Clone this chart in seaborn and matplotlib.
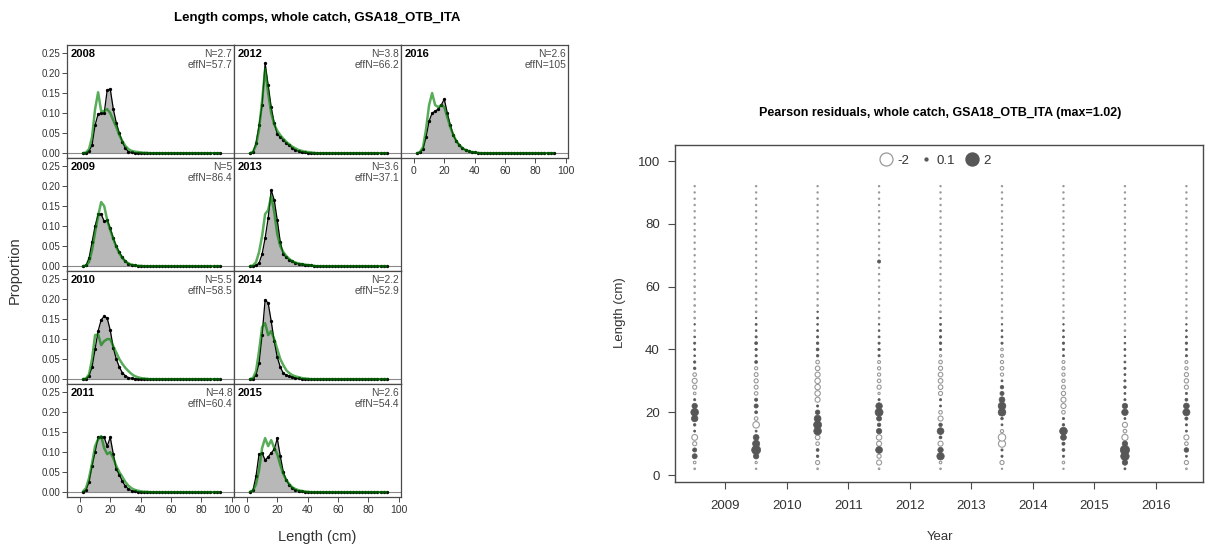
import matplotlib
matplotlib.use("Agg")
import matplotlib.pyplot as plt
import numpy as np
import pandas as pd
import seaborn as sns
from matplotlib.lines import Line2D

# ---------------- data ----------------
length_bins = [2, 4, 6, 8, 10, 12, 14, 16, 18, 20, 22, 24, 26, 28, 30, 32, 34, 36, 38, 40,
               42, 44, 46, 48, 50, 52, 54, 56, 58, 60, 62, 64, 66, 68, 70, 72, 74, 76, 78, 80,
               82, 84, 86, 88, 90, 92]
comp_years = [2008, 2009, 2010, 2011, 2012, 2013, 2014, 2015, 2016]
n_labels = ["N=2.7", "N=5", "N=5.5", "N=4.8", "N=3.8", "N=3.6", "N=2.2", "N=2.6", "N=2.6"]
effn_labels = ["effN=57.7", "effN=86.4", "effN=58.5", "effN=60.4", "effN=66.2",
               "effN=37.1", "effN=52.9", "effN=54.4", "effN=105"]

obs_2008 = [0.000, 0.001, 0.005, 0.020, 0.070, 0.098, 0.100, 0.100, 0.158, 0.160,
            0.110, 0.075, 0.050, 0.028, 0.012, 0.004, 0.002, 0.001, 0.000, 0.000,
            0, 0, 0, 0, 0, 0, 0, 0, 0, 0, 0, 0, 0, 0, 0, 0, 0, 0, 0, 0, 0, 0, 0, 0, 0, 0]
exp_2008 = [0.000, 0.002, 0.010, 0.040, 0.110, 0.152, 0.105, 0.105, 0.110, 0.100,
            0.082, 0.065, 0.045, 0.030, 0.018, 0.010, 0.006, 0.004, 0.003, 0.002,
            0.001, 0.001, 0, 0, 0, 0, 0, 0, 0, 0, 0, 0, 0, 0, 0, 0, 0, 0, 0, 0, 0, 0, 0, 0, 0, 0]
obs_2009 = [0.000, 0.002, 0.020, 0.060, 0.100, 0.130, 0.130, 0.112, 0.115, 0.095,
            0.070, 0.050, 0.035, 0.022, 0.012, 0.006, 0.003, 0.002, 0.001, 0.000,
            0, 0, 0, 0, 0, 0, 0, 0, 0, 0, 0, 0, 0, 0, 0, 0, 0, 0, 0, 0, 0, 0, 0, 0, 0, 0]
exp_2009 = [0.000, 0.002, 0.010, 0.040, 0.085, 0.125, 0.160, 0.150, 0.115, 0.090,
            0.068, 0.048, 0.032, 0.020, 0.012, 0.007, 0.004, 0.002, 0.001, 0.001,
            0, 0, 0, 0, 0, 0, 0, 0, 0, 0, 0, 0, 0, 0, 0, 0, 0, 0, 0, 0, 0, 0, 0, 0, 0, 0]
obs_2010 = [0.000, 0.001, 0.008, 0.030, 0.075, 0.120, 0.148, 0.157, 0.152, 0.122,
            0.078, 0.050, 0.030, 0.016, 0.008, 0.004, 0.002, 0.001, 0.000, 0.000,
            0, 0, 0, 0, 0, 0, 0, 0, 0, 0, 0, 0, 0, 0, 0, 0, 0, 0, 0, 0, 0, 0, 0, 0, 0, 0]
exp_2010 = [0.000, 0.002, 0.012, 0.050, 0.110, 0.112, 0.085, 0.095, 0.100, 0.100,
            0.082, 0.066, 0.050, 0.038, 0.028, 0.020, 0.013, 0.008, 0.005, 0.003,
            0.002, 0.001, 0, 0, 0, 0, 0, 0, 0, 0, 0, 0, 0, 0, 0, 0, 0, 0, 0, 0, 0, 0, 0, 0, 0, 0]
obs_2011 = [0.001, 0.005, 0.025, 0.065, 0.100, 0.137, 0.137, 0.137, 0.115, 0.137,
            0.095, 0.057, 0.044, 0.027, 0.015, 0.008, 0.004, 0.002, 0.001, 0.000,
            0, 0, 0, 0, 0, 0, 0, 0, 0, 0, 0, 0, 0, 0, 0, 0, 0, 0, 0, 0, 0, 0, 0, 0, 0, 0]
exp_2011 = [0.002, 0.010, 0.035, 0.072, 0.115, 0.132, 0.140, 0.110, 0.095, 0.100,
            0.085, 0.065, 0.050, 0.038, 0.025, 0.016, 0.010, 0.006, 0.004, 0.002,
            0.001, 0.001, 0, 0, 0, 0, 0, 0, 0, 0, 0, 0, 0, 0, 0, 0, 0, 0, 0, 0, 0, 0, 0, 0, 0, 0]
obs_2012 = [0.000, 0.003, 0.025, 0.070, 0.120, 0.225, 0.170, 0.115, 0.075, 0.048,
            0.040, 0.033, 0.025, 0.020, 0.013, 0.008, 0.005, 0.003, 0.002, 0.001,
            0, 0, 0, 0, 0, 0, 0, 0, 0, 0, 0, 0, 0, 0, 0, 0, 0, 0, 0, 0, 0, 0, 0, 0, 0, 0]
exp_2012 = [0.000, 0.003, 0.020, 0.060, 0.130, 0.210, 0.150, 0.100, 0.072, 0.056,
            0.045, 0.036, 0.028, 0.022, 0.016, 0.012, 0.008, 0.006, 0.004, 0.003,
            0.002, 0.001, 0, 0, 0, 0, 0, 0, 0, 0, 0, 0, 0, 0, 0, 0, 0, 0, 0, 0, 0, 0, 0, 0, 0, 0]
obs_2013 = [0.000, 0.000, 0.002, 0.008, 0.030, 0.070, 0.120, 0.190, 0.165, 0.115,
            0.060, 0.030, 0.022, 0.016, 0.012, 0.008, 0.006, 0.005, 0.004, 0.003,
            0.002, 0.001, 0, 0, 0, 0, 0, 0, 0, 0, 0, 0, 0, 0, 0, 0, 0, 0, 0, 0, 0, 0, 0, 0, 0, 0]
exp_2013 = [0.000, 0.002, 0.010, 0.035, 0.075, 0.130, 0.140, 0.175, 0.135, 0.080,
            0.050, 0.035, 0.025, 0.018, 0.012, 0.009, 0.007, 0.005, 0.004, 0.003,
            0.002, 0.001, 0, 0, 0, 0, 0, 0, 0, 0, 0, 0, 0, 0, 0, 0, 0, 0, 0, 0, 0, 0, 0, 0, 0, 0]
obs_2014 = [0.000, 0.001, 0.010, 0.040, 0.110, 0.198, 0.190, 0.145, 0.095, 0.055,
            0.030, 0.015, 0.010, 0.007, 0.005, 0.003, 0.002, 0.001, 0.000, 0.000,
            0, 0, 0, 0, 0, 0, 0, 0, 0, 0, 0, 0, 0, 0, 0, 0, 0, 0, 0, 0, 0, 0, 0, 0, 0, 0]
exp_2014 = [0.000, 0.003, 0.020, 0.070, 0.130, 0.140, 0.110, 0.120, 0.100, 0.075,
            0.050, 0.035, 0.022, 0.015, 0.010, 0.007, 0.005, 0.003, 0.002, 0.001,
            0, 0, 0, 0, 0, 0, 0, 0, 0, 0, 0, 0, 0, 0, 0, 0, 0, 0, 0, 0, 0, 0, 0, 0, 0, 0]
obs_2015 = [0.001, 0.005, 0.040, 0.095, 0.098, 0.080, 0.088, 0.098, 0.107, 0.134,
            0.090, 0.050, 0.030, 0.018, 0.010, 0.006, 0.003, 0.002, 0.001, 0.000,
            0, 0, 0, 0, 0, 0, 0, 0, 0, 0, 0, 0, 0, 0, 0, 0, 0, 0, 0, 0, 0, 0, 0, 0, 0, 0]
exp_2015 = [0.001, 0.004, 0.020, 0.055, 0.110, 0.135, 0.115, 0.130, 0.110, 0.095,
            0.068, 0.045, 0.030, 0.020, 0.012, 0.008, 0.005, 0.003, 0.002, 0.001,
            0, 0, 0, 0, 0, 0, 0, 0, 0, 0, 0, 0, 0, 0, 0, 0, 0, 0, 0, 0, 0, 0, 0, 0, 0, 0]
obs_2016 = [0.000, 0.002, 0.010, 0.040, 0.080, 0.100, 0.105, 0.110, 0.120, 0.135,
            0.100, 0.070, 0.045, 0.030, 0.020, 0.012, 0.008, 0.005, 0.003, 0.002,
            0.001, 0, 0, 0, 0, 0, 0, 0, 0, 0, 0, 0, 0, 0, 0, 0, 0, 0, 0, 0, 0, 0, 0, 0, 0, 0]
exp_2016 = [0.000, 0.003, 0.015, 0.060, 0.120, 0.150, 0.120, 0.115, 0.120, 0.115,
            0.090, 0.065, 0.045, 0.030, 0.020, 0.013, 0.008, 0.005, 0.003, 0.002,
            0.001, 0, 0, 0, 0, 0, 0, 0, 0, 0, 0, 0, 0, 0, 0, 0, 0, 0, 0, 0, 0, 0, 0, 0, 0, 0]

# Pearson residuals (mid-year positions)
resid_years = [2008.5, 2009.5, 2010.5, 2011.5, 2012.5, 2013.5, 2014.5, 2015.5, 2016.5]
res_2008 = [-0.03, -0.08, 0.30, 0.20, -0.20, -0.40, 0.05, 0.08, 0.50, 0.70,
            0.35, 0.06, -0.08, -0.20, -0.30, -0.15, 0.08, 0.07, 0.04, 0.05,
            0.06, 0.04, -0.03, 0.03, -0.03, -0.02, -0.03, -0.02, -0.02, -0.03,
            -0.02, -0.02, -0.02, -0.02, -0.02, -0.02, -0.02, -0.02, -0.02, -0.02,
            -0.02, -0.02, -0.02, -0.02, -0.02, -0.02]
res_2009 = [-0.02, -0.06, 0.35, 0.95, 0.60, 0.40, 0.05, -0.50, -0.15, 0.10,
            0.20, 0.12, -0.15, -0.18, -0.20, -0.18, -0.12, 0.10, 0.06, 0.07,
            0.10, 0.06, 0.04, 0.05, 0.03, -0.03, -0.02, -0.03, -0.02, -0.02,
            -0.02, -0.02, -0.02, -0.02, -0.02, -0.02, -0.02, -0.02, -0.02, -0.02,
            -0.02, -0.02, -0.02, -0.02, -0.02, -0.02]
res_2010 = [-0.03, -0.20, 0.08, 0.10, -0.15, -0.25, 0.70, 0.75, 0.55, 0.25,
            0.06, -0.30, -0.35, -0.35, -0.35, -0.30, -0.25, -0.15, 0.08, 0.10,
            0.08, 0.06, 0.05, 0.04, 0.05, 0.03, -0.03, -0.02, -0.03, -0.02,
            -0.02, -0.02, -0.02, -0.02, -0.02, -0.02, -0.02, -0.02, -0.02, -0.02,
            -0.02, -0.02, -0.02, -0.02, -0.02, -0.02]
res_2011 = [-0.03, -0.30, -0.20, 0.55, -0.30, -0.35, 0.35, 0.15, 0.30, 0.75,
            0.50, 0.06, -0.06, -0.20, -0.15, -0.12, -0.12, -0.10, 0.06, 0.07,
            0.06, 0.05, 0.04, 0.03, -0.03, -0.02, -0.02, -0.02, -0.02, -0.02,
            -0.02, -0.02, -0.02, 0.12, -0.02, -0.02, -0.02, -0.02, -0.02, -0.02,
            -0.02, -0.02, -0.02, -0.02, -0.02, -0.02]
res_2012 = [-0.03, -0.08, 0.65, 0.35, -0.30, 0.10, 0.55, 0.15, -0.30, -0.15,
            0.05, 0.06, -0.20, -0.25, -0.25, -0.25, -0.20, -0.15, -0.06, 0.06,
            0.08, 0.07, 0.06, 0.05, 0.03, -0.03, -0.02, -0.02, -0.02, -0.02,
            -0.02, -0.02, -0.02, -0.02, -0.02, -0.02, -0.02, -0.02, -0.02, -0.02,
            -0.02, -0.02, -0.02, -0.02, -0.02, -0.02]
res_2013 = [-0.02, -0.20, 0.06, 0.06, -0.60, -0.65, -0.12, 0.05, 0.08, 0.70,
            0.70, 0.40, 0.20, 0.15, 0.05, -0.12, -0.15, -0.12, -0.10, -0.08,
            0.06, 0.05, 0.04, 0.03, -0.03, -0.02, -0.02, -0.02, -0.02, -0.02,
            -0.02, -0.02, -0.02, -0.02, -0.02, -0.02, -0.02, -0.02, -0.02, -0.02,
            -0.02, -0.02, -0.02, -0.02, -0.02, -0.02]
res_2014 = [-0.02, -0.08, 0.06, 0.10, 0.12, 0.40, 0.70, 0.08, 0.06, -0.15,
            -0.30, -0.30, -0.22, -0.18, -0.12, -0.12, -0.12, -0.10, 0.05, 0.06,
            0.07, 0.05, 0.04, 0.03, -0.03, -0.02, -0.02, -0.02, -0.02, -0.02,
            -0.02, -0.02, -0.02, -0.02, -0.02, -0.02, -0.02, -0.02, -0.02, -0.02,
            -0.02, -0.02, -0.02, -0.02, -0.02, -0.02]
res_2015 = [0.05, 0.35, 0.85, 1.02, 0.35, -0.45, -0.15, -0.30, 0.05, 0.50,
            0.35, 0.06, 0.05, 0.08, 0.06, 0.05, 0.06, 0.05, 0.04, 0.05,
            0.04, 0.03, -0.03, -0.02, -0.02, -0.02, -0.02, -0.02, -0.02, -0.02,
            -0.02, -0.02, -0.02, -0.02, -0.02, -0.02, -0.02, -0.02, -0.02, -0.02,
            -0.02, -0.02, -0.02, -0.02, -0.02, -0.02]
res_2016 = [-0.03, -0.20, 0.05, 0.25, -0.15, -0.30, 0.05, 0.06, 0.12, 0.60,
            0.40, 0.10, 0.06, -0.20, -0.22, -0.20, -0.12, -0.10, 0.06, 0.06,
            0.07, 0.05, 0.04, 0.03, -0.03, -0.02, -0.02, -0.02, -0.02, -0.02,
            -0.02, -0.02, -0.02, -0.02, -0.02, -0.02, -0.02, -0.02, -0.02, -0.02,
            -0.02, -0.02, -0.02, -0.02, -0.02, -0.02]

year_ticks = [2009, 2010, 2011, 2012, 2013, 2014, 2015, 2016]
length_ticks = [0, 20, 40, 60, 80, 100]
prop_ticks = [0.00, 0.05, 0.10, 0.15, 0.20, 0.25]
prop_tick_labels = ["0.00", "0.05", "0.10", "0.15", "0.20", "0.25"]
legend_values = [-2, 0.1, 2]
legend_labels = ["-2", "0.1", "2"]

obs_all = [obs_2008, obs_2009, obs_2010, obs_2011, obs_2012, obs_2013, obs_2014, obs_2015, obs_2016]
exp_all = [exp_2008, exp_2009, exp_2010, exp_2011, exp_2012, exp_2013, exp_2014, exp_2015, exp_2016]
res_all = [res_2008, res_2009, res_2010, res_2011, res_2012, res_2013, res_2014, res_2015, res_2016]

# ---------------- style ----------------
sns.set_theme(style="white")
plt.rcParams["font.family"] = ["Liberation Sans", "DejaVu Sans"]

W, H = 1205, 549
fig = plt.figure(figsize=(W / 100, H / 100), dpi=100)
fig.patch.set_facecolor("white")


def px_axes(left, top, width, height):
    return fig.add_axes([left / W, 1 - (top + height) / H, width / W, height / H])


FRAME = "#4a4a4a"
TXT = "#333333"
FILL = "#b8b8b8"
GREEN = (0.0, 0.5, 0.0)

col_left = [67, 234, 401]
row_top = [45, 158, 271, 384]
PW, PH = 167, 113
cells = [(0, 0), (0, 1), (0, 2), (0, 3), (1, 0), (1, 1), (1, 2), (1, 3), (2, 0)]

for i, yr in enumerate(comp_years):
    c, r = cells[i]
    ax = px_axes(col_left[c], row_top[r], PW, PH)
    obs = obs_all[i]
    exp = exp_all[i]
    ax.fill_between(length_bins, obs, 0, color=FILL, lw=0, zorder=1)
    ax.axhline(0, color="#8a8a8a", lw=0.8, zorder=1.5)
    sns.lineplot(x=length_bins, y=obs, ax=ax, color="black", lw=0.9, marker="o",
                 markersize=2.4, markeredgewidth=0, zorder=3)
    sns.lineplot(x=length_bins, y=exp, ax=ax, color=GREEN, alpha=0.65, lw=1.8, zorder=4)
    ax.set_xlim(-8.5, 101.5)
    ax.set_ylim(-0.012, 0.27)
    ax.set_xlabel("")
    ax.set_ylabel("")
    for s in ax.spines.values():
        s.set_visible(True)
        s.set_color(FRAME)
        s.set_linewidth(0.9)
    ax.text(0.02, 0.965, str(yr), transform=ax.transAxes, ha="left", va="top",
            fontsize=8, fontweight="bold", color="black")
    ax.text(0.99, 0.965, n_labels[i], transform=ax.transAxes, ha="right", va="top",
            fontsize=7.4, color="#4a4a4a")
    ax.text(0.99, 0.865, effn_labels[i], transform=ax.transAxes, ha="right", va="top",
            fontsize=7.4, color="#4a4a4a")
    ax.set_yticks(prop_ticks)
    ax.set_xticks(length_ticks)
    show_y = (c == 0)
    show_x = (r == 3) or (yr == 2016)
    ax.tick_params(axis="y", left=show_y, labelleft=show_y, direction="out", length=3.5,
                   width=0.7, color=FRAME, labelsize=7, labelcolor=TXT, pad=1.5)
    ax.tick_params(axis="x", bottom=show_x, labelbottom=show_x, direction="out", length=3.5,
                   width=0.7, color=FRAME, labelsize=7.5, labelcolor=TXT, pad=2.5)
    if show_y:
        ax.set_yticklabels(prop_tick_labels)

fig.text(317 / W, 1 - 18 / H, "Length comps, whole catch, GSA18_OTB_ITA", ha="center",
         va="center", fontsize=9.5, fontweight="bold", color="black")
fig.text(15 / W, 1 - 270 / H, "Proportion", rotation=90, ha="center", va="center",
         fontsize=10.5, color=TXT)
fig.text(317 / W, 1 - 537 / H, "Length (cm)", ha="center", va="center",
         fontsize=10.5, color=TXT)

# ---------------- bubble plot ----------------
rows = []
for yx, res in zip(resid_years, res_all):
    for L, rv in zip(length_bins, res):
        rows.append({"year": yx, "length": L, "resid": rv})
df = pd.DataFrame(rows)
df["absr"] = df["resid"].abs()
pos = df[df["resid"] > 0]
neg = df[df["resid"] <= 0]

D2 = 13 * 0.72  # marker diameter (pt) for |resid| = 2
SMAX = D2 ** 2
POSC = "#575757"
NEGC = "#999999"

axr = px_axes(675, 145, 528, 337)
sns.scatterplot(data=neg, x="year", y="length", size="absr", sizes=(0, SMAX), size_norm=(0, 2),
                color="white", edgecolor=NEGC, linewidth=0.8, legend=False, ax=axr, zorder=3)
sns.scatterplot(data=pos, x="year", y="length", size="absr", sizes=(0, SMAX), size_norm=(0, 2),
                color=POSC, edgecolor=POSC, linewidth=0.5, legend=False, ax=axr, zorder=4)
axr.set_xlim(2008.18, 2016.77)
axr.set_ylim(-2.2, 105.1)
axr.set_xticks(year_ticks)
axr.set_xticklabels([str(y) for y in year_ticks])
axr.set_yticks(length_ticks)
axr.set_xlabel("")
axr.set_ylabel("")
for s in axr.spines.values():
    s.set_visible(True)
    s.set_color(FRAME)
    s.set_linewidth(1.0)
axr.tick_params(axis="both", bottom=True, left=True, direction="out", length=5, width=0.8,
                color=FRAME, labelsize=9.5, labelcolor=TXT)
axr.tick_params(axis="x", pad=8)
axr.tick_params(axis="y", pad=6)

handles = [
    Line2D([], [], marker="o", ls="", markersize=D2 * np.sqrt(abs(legend_values[0]) / 2),
           markerfacecolor="white", markeredgecolor=NEGC, markeredgewidth=0.9),
    Line2D([], [], marker="o", ls="", markersize=D2 * np.sqrt(abs(legend_values[1]) / 2),
           markerfacecolor=POSC, markeredgecolor=POSC),
    Line2D([], [], marker="o", ls="", markersize=D2 * np.sqrt(abs(legend_values[2]) / 2),
           markerfacecolor=POSC, markeredgecolor=POSC),
]
axr.legend(handles, legend_labels, ncol=3, loc="center", bbox_to_anchor=(0.4925, 0.953),
           frameon=False, fontsize=9.5, handletextpad=0.3, columnspacing=0.8,
           handlelength=1.0, labelcolor=TXT)

fig.text(940 / W, 1 - 113 / H, "Pearson residuals, whole catch, GSA18_OTB_ITA (max=1.02)",
         ha="center", va="center", fontsize=9, fontweight="bold", color="black")
fig.text(620 / W, 1 - 313 / H, "Length (cm)", rotation=90, ha="center", va="center",
         fontsize=9.5, color=TXT)
fig.text(940 / W, 1 - 537 / H, "Year", ha="center", va="center", fontsize=9.5, color=TXT)

fig.savefig("out.png", dpi=100, facecolor="white")
